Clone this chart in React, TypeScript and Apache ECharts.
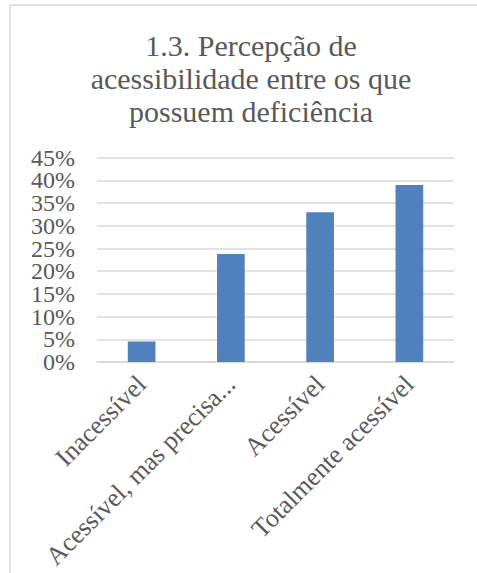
import React, { useEffect, useRef } from "react";
import * as echarts from "echarts";

const categories = ["Inacessível", "Acessível, mas precisa...", "Acessível", "Totalmente acessível"];
const values = [0.045, 0.238, 0.33, 0.39];
const titleLines = ["1.3. Percepção de", "acessibilidade entre os que", "possuem deficiência"];
const evenTicks = [0, 0.1, 0.2, 0.3, 0.4];
const oddTicks = [0.05, 0.15, 0.25, 0.35, 0.45];

const FONT = "'Liberation Serif', serif";
const TEXT = "#595959";

const yAxisBase = (labels: number[], grid: boolean) => ({
  type: "value",
  position: "left",
  min: 0,
  max: 0.45,
  interval: 0.05,
  axisLine: { show: false },
  axisTick: { show: false },
  splitLine: { show: grid, lineStyle: { color: "#d9d9d9", width: 1.5 } },
  axisLabel: {
    customValues: labels,
    margin: 22,
    fontFamily: FONT,
    fontSize: 24,
    color: TEXT,
    showMinLabel: true,
    showMaxLabel: true,
    hideOverlap: false,
    formatter: (v: number) => `${Math.round(v * 100)}%`,
  },
});

export default function App() {
  const ref = useRef<HTMLDivElement>(null);
  useEffect(() => {
    const chart = echarts.init(ref.current!, undefined, { renderer: "svg" });
    chart.setOption({
      animation: false,
      backgroundColor: "#ffffff",
      graphic: [
        {
          type: "rect",
          shape: { x: 10, y: 5, width: 480, height: 580 },
          style: { fill: "none", stroke: "#d9d9d9", lineWidth: 1.5 },
          silent: true,
        },
      ],
      title: {
        text: titleLines.join("\n"),
        left: 246,
        top: 24,
        textAlign: "center",
        textStyle: {
          fontFamily: FONT,
          fontSize: 30,
          fontWeight: "normal",
          color: TEXT,
          lineHeight: 33,
        },
      },
      grid: {
        left: 97,
        right: 23,
        top: 157.7,
        bottom: 211,
        containLabel: false,
        outerBoundsMode: "none",
      },
      xAxis: {
        type: "category",
        data: categories,
        axisLine: { lineStyle: { color: "#d9d9d9", width: 1.5 } },
        axisTick: { show: false },
        axisLabel: {
          rotate: 45,
          interval: 0,
          margin: 18,
          fontFamily: FONT,
          fontSize: 26,
          color: TEXT,
        },
      },
      yAxis: [yAxisBase(evenTicks, true), yAxisBase(oddTicks, false)],
      series: [
        {
          type: "bar",
          data: values,
          yAxisIndex: 0,
          barWidth: "31%",
          itemStyle: { color: "#4F81BD" },
        },
      ],
    });
    return () => chart.dispose();
  }, []);
  return (
    <div
      ref={ref}
      style={{ position: "absolute", left: 0, top: 0, width: 477, height: 573 }}
    />
  );
}
